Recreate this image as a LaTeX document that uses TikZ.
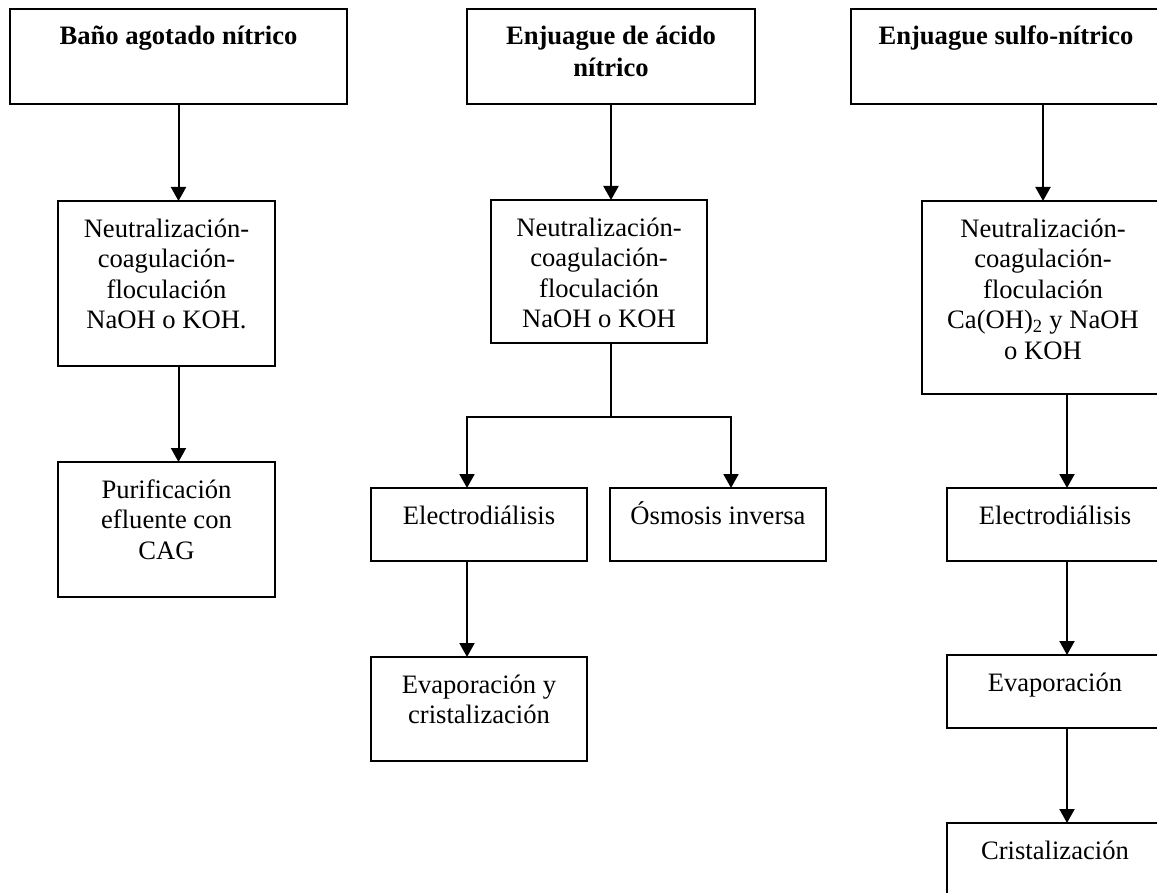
\documentclass[tikz,border=0pt]{standalone}
\usepackage{fontspec}
\setmainfont{Liberation Serif}
\usetikzlibrary{arrows.meta}
% fixed-height strut so the first baseline sits at a known distance below a text node's top
\newcommand\firststrut{\rule{0pt}{26pt}}
\begin{document}
\begin{tikzpicture}[x=1pt,y=-1pt,
  box/.style={draw,line width=2pt,inner sep=0pt,outer sep=0pt,anchor=north west},
  txt/.style={anchor=north,inner sep=0pt,align=center,font=\fontsize{26.6}{30.6}\selectfont},
  ttl/.style={anchor=north,inner sep=0pt,align=center,font=\fontsize{26.6}{32}\selectfont\bfseries},
  arr/.style={line width=2pt,-{Triangle[width=15pt,length=14pt]}},
  link/.style={line width=2pt}]
\useasboundingbox (0,0) rectangle (1157,893);
\clip (0,0) rectangle (1157,893);

% ---- column 1: spent nitric bath
\node[box,minimum width=337pt,minimum height=95pt]  (a1) at (10,9) {};
\node[box,minimum width=217pt,minimum height=165pt] (b1) at (58,201) {};
\node[box,minimum width=217pt,minimum height=135pt] (c1) at (58,462) {};

% ---- column 2: nitric acid rinse
\node[box,minimum width=288pt,minimum height=95pt]  (a2) at (467,9) {};
\node[box,minimum width=216pt,minimum height=143pt] (b2) at (491,200) {};
\node[box,minimum width=216pt,minimum height=73pt]  (c2) at (371,488) {};
\node[box,minimum width=216pt,minimum height=73pt]  (c3) at (610,488) {};
\node[box,minimum width=216pt,minimum height=104pt] (d2) at (371,657) {};

% ---- column 3: sulfo-nitric rinse (runs past the right and bottom edges)
\node[box,minimum width=310pt,minimum height=95pt]  (a3) at (851,9) {};
\node[box,minimum width=242pt,minimum height=193pt] (b3) at (922,201) {};
\node[box,minimum width=216pt,minimum height=73pt]  (c4) at (947,488) {};
\node[box,minimum width=216pt,minimum height=73pt]  (d4) at (947,655) {};
\node[box,minimum width=216pt,minimum height=73pt]  (e4) at (947,823) {};

% ---- texts
\node[ttl] (a1t) at ([yshift=-9.5pt]a1.north) {\firststrut Baño agotado nítrico};
\node[ttl] (a2t) at ([yshift=-9.5pt]a2.north) {\firststrut Enjuague de ácido\\nítrico};
\node[ttl] (a3t) at ([yshift=-9.5pt]a3.north) {\firststrut Enjuague sulfo-nítrico};

\node[txt] (b1t) at ([yshift=-10pt]b1.north) {\firststrut Neutralización-\\coagulación-\\floculación\\NaOH o KOH.};
\node[txt] (c1t) at ([yshift=-10pt]c1.north) {\firststrut Purificación\\efluente con\\CAG};

\node[txt] (b2t) at ([yshift=-10pt]b2.north) {\firststrut Neutralización-\\coagulación-\\floculación\\NaOH o KOH};
\node[txt] (c2t) at ([yshift=-10pt]c2.north) {\firststrut Electrodiálisis};
\node[txt] (c3t) at ([yshift=-10pt]c3.north) {\firststrut Ósmosis inversa};
\node[txt] (d2t) at ([yshift=-10pt]d2.north) {\firststrut Evaporación y\\cristalización};

\node[txt] (b3t) at ([yshift=-10pt]b3.north) {\firststrut Neutralización-\\coagulación-\\floculación\\Ca(OH)\textsubscript{2} y NaOH\\o KOH};
\node[txt] (c4t) at ([yshift=-10pt]c4.north) {\firststrut Electrodiálisis};
\node[txt] (d4t) at ([yshift=-10pt]d4.north) {\firststrut Evaporación};
\node[txt] (e4t) at ([yshift=-10pt]e4.north) {\firststrut Cristalización};

% ---- connectors, column 1
\draw[arr] (a1.south) -- (a1.south |- b1.north);
\draw[arr] (a1.south |- b1.south) -- (a1.south |- c1.north);

% ---- connectors, column 2 (split into two branches)
\coordinate (split) at (611,417);
\coordinate (c2in) at ([xshift=-12pt]c2.north);
\coordinate (c3in) at ([xshift=13pt]c3.north);
\draw[arr] (a2.south) -- (a2.south |- b2.north);
\draw[link] (a2.south |- b2.south) -- (split);
\draw[arr] (split) -| (c2in);
\draw[arr] (split) -| (c3in);
\draw[arr] (c2in |- c2.south) -- (c2in |- d2.north);

% ---- connectors, column 3
\coordinate (c4in) at ([xshift=12pt]c4.north);
\draw[arr] (a3.south -| b3.north) -- (b3.north);
\draw[arr] (c4in |- b3.south) -- (c4in);
\draw[arr] (c4in |- c4.south) -- (c4in |- d4.north);
\draw[arr] (c4in |- d4.south) -- (c4in |- e4.north);
\end{tikzpicture}
\end{document}
